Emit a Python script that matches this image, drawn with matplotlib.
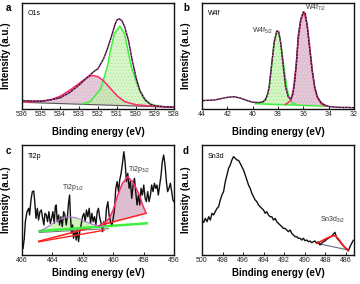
import matplotlib
matplotlib.use("Agg")
import matplotlib.pyplot as plt
import numpy as np

plt.rcParams['font.family'] = ['Liberation Sans', 'DejaVu Sans']
plt.rcParams['mathtext.fontset'] = 'custom'
plt.rcParams['mathtext.rm'] = 'Liberation Sans'
plt.rcParams['mathtext.it'] = 'Liberation Sans'
plt.rcParams['hatch.linewidth'] = 0.4

# ---------------- Panel a : O1s ----------------
o1s_env_e = [536, 535.5, 535, 534.5, 534, 533.5, 533, 532.5, 532.2, 532, 531.7, 531.5, 531.3,
             531.1, 531.0, 530.9, 530.75, 530.6, 530.4, 530.2, 530.0, 529.8, 529.5, 529.2,
             529, 528.5, 528]
o1s_env_i = [7.9, 7.6, 7.3, 8.6, 10.5, 15.5, 22.5, 30.8, 35.6, 38.0, 47.6, 57.0, 68.0,
             80.0, 84.0, 85.0, 83.5, 77.8, 65.0, 46.0, 30.0, 17.5, 8.0, 4.0,
             3.0, 2.2, 1.6]
o1s_red_e = [536, 535.5, 535, 534.5, 534, 533.5, 533, 532.6, 532.3, 532.0, 531.7, 531.4,
             531.0, 530.6, 530.0, 529.5, 529, 528.5, 528]
o1s_red_i = [6.3, 6.8, 7.5, 8.6, 12.0, 17.5, 24.0, 29.5, 31.7, 30.5, 26.5, 20.5,
             12.5, 7.0, 4.0, 3.2, 2.6, 2.1, 1.6]
o1s_green_e = [532.8, 532.4, 531.86, 531.51, 531.34, 531.13, 530.85, 530.61, 530.43,
               530.24, 529.95, 529.63, 529.25, 528.9]
o1s_green_i = [4.8, 7.0, 19.0, 39.7, 55.6, 71.4, 78.4, 71.4, 55.6,
               39.7, 23.8, 11.1, 4.8, 3.2]
o1s_base_e = [536, 528]
o1s_base_i = [6.3, 1.6]

# ---------------- Panel b : W4f ----------------
w4f_env_e = [44, 43.5, 43, 42.5, 42, 41.5, 41, 40.5, 40, 39.5, 39.2, 39, 38.8, 38.7, 38.5,
             38.3, 38.1, 37.95, 37.8, 37.6, 37.4, 37.2, 37.0, 36.85, 36.7, 36.55, 36.4,
             36.2, 36.0, 35.85, 35.7, 35.5, 35.3, 35.1, 34.9, 34.6, 34.3, 34.0, 33.5,
             33.0, 32.5, 32.0]
w4f_env_i = [7.9, 8.2, 8.5, 9.8, 11.0, 11.6, 10.4, 8.2, 6.4, 6.1, 6.7, 8.5, 14.6, 20.7, 42.1,
             63.4, 73.5, 73.2, 63.4, 42.1, 20.7, 11.6, 9.1, 13.1, 23.8, 42.1, 69.5,
             84.8, 91.5, 90.2, 78.7, 57.3, 36.0, 20.7, 11.6, 6.1, 3.7, 2.4, 1.8,
             1.5, 1.5, 1.2]
w4f_green_e = [39.8, 39.2, 38.9, 38.7, 38.5, 38.3, 38.1, 37.9, 37.7, 37.5, 37.3, 37.1, 36.9, 36.6]
w4f_green_i = [5.2, 6.5, 11.0, 20.0, 41.0, 62.0, 73.5, 70.0, 56.0, 37.0, 20.0, 10.0, 6.0, 4.6]
w4f_pink_e = [37.4, 37.0, 36.8, 36.6, 36.4, 36.2, 35.95, 35.7, 35.5, 35.3, 35.1, 34.9, 34.6, 34.3]
w4f_pink_i = [4.3, 8.0, 17.0, 38.0, 65.0, 84.0, 91.5, 80.0, 59.0, 37.0, 20.0, 11.0, 5.0, 3.0]
w4f_base_e = [39.8, 34.2]
w4f_base_i = [5.0, 2.6]

# ---------------- Panel c : Ti2p ----------------
ti_e = [465.93, 465.85, 465.78, 465.67, 465.56, 465.50, 465.41, 465.32, 465.23, 465.17,
        465.08, 464.99, 464.91, 464.82, 464.73, 464.64, 464.56, 464.49, 464.40, 464.32,
        464.23, 464.14, 464.05, 463.97, 463.88, 463.81, 463.75, 463.68, 463.59, 463.53,
        463.44, 463.35, 463.26, 463.18, 463.09, 463.00, 462.94, 462.87, 462.81, 462.74,
        462.67, 462.61, 462.52, 462.43, 462.37, 462.28, 462.19, 462.11, 462.02, 461.93,
        461.84, 461.76, 461.67, 461.58, 461.49, 461.40, 461.32, 461.23, 461.14, 461.05,
        460.97, 460.88, 460.79, 460.70, 460.62, 460.53, 460.44, 460.35, 460.27, 460.18,
        460.09, 460.00, 459.92, 459.83, 459.74, 459.65, 459.57, 459.48, 459.39, 459.30,
        459.22, 459.13, 459.04, 458.95, 458.87, 458.78, 458.69, 458.60, 458.52, 458.43,
        458.34, 458.25, 458.17, 458.08, 457.99, 457.90, 457.82, 457.73, 457.64, 457.55,
        457.47, 457.38, 457.29, 457.20, 457.12, 457.03, 456.94, 456.85, 456.77, 456.68,
        456.59, 456.50, 456.42, 456.33, 456.24, 456.15, 456.07, 456.00]
ti_i = [6.1, 15.2, 30.3, 39.4, 42.4, 36.4, 50.0, 57.6, 58.2, 50.0,
        33.3, 42.4, 31.8, 39.4, 40.9, 33.3, 27.3, 37.9, 36.4, 30.3,
        39.4, 28.8, 33.3, 39.4, 28.8, 43.9, 45.5, 30.3, 36.4, 27.3,
        34.8, 25.8, 39.4, 36.4, 27.3, 36.4, 47.0, 54.5, 34.8, 19.7,
        27.3, 15.2, 22.7, 13.6, 24.2, 12.1, 22.7, 27.3, 34.8, 37.9,
        30.3, 40.9, 34.8, 42.4, 28.8, 37.9, 30.3, 34.8, 27.3, 39.4,
        42.4, 33.3, 28.8, 21.2, 30.3, 25.8, 42.4, 48.5, 36.4, 30.3,
        25.8, 33.3, 40.9, 60.6, 66.7, 57.6, 68.2, 74.2, 83.3, 93.9,
        84.8, 66.7, 74.2, 60.6, 66.7, 51.5, 63.6, 69.7, 57.6, 45.5,
        54.5, 45.5, 60.6, 54.5, 63.6, 51.5, 48.5, 57.6, 48.5, 54.5,
        63.6, 57.6, 65.2, 60.6, 63.6, 54.5, 63.6, 72.7, 84.8, 90.9,
        81.8, 66.7, 57.6, 60.6, 65.2, 57.6, 50.0, 48.5]
ti_green_e = [464.85, 464.5, 464.0, 463.5, 463.0, 462.5, 462.0, 461.5, 461.0, 460.6]
ti_green_i = [21.8, 24.0, 28.5, 32.5, 34.8, 34.0, 31.5, 28.5, 26.5, 26.0]
ti_pink_e = [460.9, 460.5, 460.26, 460.0, 459.7, 459.4, 459.05, 458.75, 458.5, 458.28,
             458.05, 457.84]
ti_pink_i = [26.6, 30.0, 33.4, 41.0, 54.5, 65.0, 71.2, 67.0, 61.0, 54.5,
             45.0, 37.9]
ti_gline_e = [464.85, 457.8]
ti_gline_i = [21.8, 28.8]
ti_grayline_e = [464.85, 460.3]
ti_grayline_i = [20.5, 24.0]
ti_red1_e = [464.9, 457.84]
ti_red1_i = [12.5, 37.9]
ti_red2_e = [464.9, 460.6]
ti_red2_i = [12.0, 22.5]

# ---------------- Panel d : Sn3d ----------------
sn_e = [500.00, 499.84, 499.68, 499.51, 499.35, 499.19, 499.03, 498.87, 498.71, 498.54,
        498.38, 498.22, 498.06, 497.90, 497.73, 497.57, 497.41, 497.25, 497.09, 496.93,
        496.76, 496.60, 496.44, 496.28, 496.12, 495.96, 495.79, 495.63, 495.47, 495.31,
        495.15, 494.98, 494.82, 494.66, 494.50, 494.34, 494.18, 494.01, 493.85, 493.69,
        493.53, 493.37, 493.20, 493.04, 492.88, 492.72, 492.56, 492.40, 492.23, 492.07,
        491.91, 491.75, 491.59, 491.42, 491.26, 491.10, 490.94, 490.78, 490.62, 490.45,
        490.29, 490.13, 489.97, 489.81, 489.64, 489.48, 489.32, 489.16, 489.00, 488.84,
        488.67, 488.51, 488.35, 488.19, 488.03, 487.86, 487.70, 487.54, 487.38, 487.22,
        487.06, 486.89, 486.73, 486.57, 486.41, 486.25, 486.08, 485.92, 485.76, 485.60,
        485.44, 485.28]
sn_i = [31.8, 29.5, 33.3, 30.3, 34.8, 31.8, 37.9, 36.4, 39.4, 42.4,
        43.9, 50.0, 54.5, 57.6, 66.7, 72.7, 78.8, 81.8, 86.4, 89.4,
        87.9, 86.4, 86.0, 83.3, 80.3, 77.3, 72.7, 68.2, 63.6, 60.6,
        56.1, 53.0, 50.0, 48.5, 45.5, 43.9, 42.4, 40.9, 37.9, 39.4,
        36.4, 34.8, 34.8, 31.8, 33.3, 30.3, 28.8, 27.3, 25.8, 24.2,
        24.2, 22.7, 21.2, 22.7, 19.7, 18.2, 16.7, 16.7, 15.2, 15.2,
        13.6, 15.2, 13.0, 13.6, 12.1, 12.7, 11.2, 12.1, 12.7, 10.6,
        12.1, 9.1, 10.6, 12.1, 12.7, 14.2, 15.2, 16.1, 17.0, 18.8,
        20.6, 15.8, 13.9, 12.1, 10.3, 8.5, 6.7, 5.5, 3.6, 7.3,
        10.3, 13.3]
sn_red_e = [488.8, 488.4, 488.0, 487.6, 487.2, 487.0, 486.7, 486.4, 486.1, 485.75]
sn_red_i = [10.6, 12.5, 14.5, 16.3, 17.6, 17.3, 14.5, 10.5, 7.0, 4.5]
sn_base_e = [488.8, 485.75]
sn_base_i = [10.6, 4.5]

# ---------------- figure ----------------
W, H = 360, 284
fig = plt.figure(figsize=(W / 100, H / 100), dpi=100)


def make_ax(l, t, r, b):
    return fig.add_axes([l / W, 1 - b / H, (r - l) / W, (b - t) / H])


axA = make_ax(22, 3, 174, 109)
axB = make_ax(202, 3, 354, 109)
axC = make_ax(22, 145, 174, 255)
axD = make_ax(202, 145, 354, 255)

GREEN_FILL = '#c6f2b0'
GREEN_LINE = '#3ef03e'
PINK_FILL = '#d8b2c6'
PINK_LINE = '#ff2a6a'
ENV = '#2a1028'
DOT = '#ff55cc'
LBL = '#333333'


def style(ax, xlim, xticks):
    ax.set_xlim(*xlim)
    ax.set_ylim(0, 100)
    ax.set_xticks(xticks)
    ax.set_xticklabels([str(t) for t in xticks])
    ax.set_yticks([])
    ax.tick_params(axis='x', direction='in', length=2.2, width=0.7, pad=1.5,
                   labelsize=5, colors='#222222')
    for s in ax.spines.values():
        s.set_linewidth(1.0)
        s.set_color('#111111')


# Panel a
style(axA, (536, 528), [536, 535, 534, 533, 532, 531, 530, 529, 528])
axA.fill(o1s_red_e, o1s_red_i, facecolor=PINK_FILL, alpha=0.75, edgecolor='#f4e4ee',
         hatch='.....', lw=0)
axA.fill(o1s_green_e, o1s_green_i, facecolor=GREEN_FILL, alpha=0.65, edgecolor='#8fdc7a',
         hatch='.....', lw=0)
axA.plot(o1s_base_e, o1s_base_i, color='#555555', lw=0.8)
axA.plot(o1s_green_e, o1s_green_i, color=GREEN_LINE, lw=1.1)
axA.plot(o1s_red_e, o1s_red_i, color=PINK_LINE, lw=1.1)
axA.plot(o1s_env_e, o1s_env_i, color=ENV, lw=1.0)
axA.plot(o1s_env_e, o1s_env_i, color=DOT, lw=0.8, ls=(0, (1, 2)))
axA.text(0.04, 0.93, 'O1s', transform=axA.transAxes, fontsize=5, va='top', ha='left')

# Panel b
style(axB, (44, 32), [44, 42, 40, 38, 36, 34, 32])
axB.fill(w4f_pink_e, w4f_pink_i, facecolor=PINK_FILL, alpha=0.8, edgecolor='#f0dde8',
         hatch='.....', lw=0)
axB.fill(w4f_green_e, w4f_green_i, facecolor=GREEN_FILL, alpha=0.75, edgecolor='#8fdc7a',
         hatch='.....', lw=0)
axB.plot(w4f_base_e, w4f_base_i, color=GREEN_LINE, lw=1.1)
axB.plot(w4f_green_e, w4f_green_i, color=GREEN_LINE, lw=1.0)
axB.plot(w4f_pink_e, w4f_pink_i, color=PINK_LINE, lw=1.1)
axB.plot(w4f_env_e, w4f_env_i, color=ENV, lw=1.0)
axB.plot(w4f_env_e, w4f_env_i, color=DOT, lw=0.8, ls=(0, (1, 2)))
axB.text(0.04, 0.93, 'W4f', transform=axB.transAxes, fontsize=5, va='top', ha='left')
axB.text(39.25, 74, 'W4f$_{5/2}$', fontsize=5, ha='center', va='center', color=LBL)
axB.text(35.0, 95, 'W4f$_{7/2}$', fontsize=5, ha='center', va='center', color=LBL)

# Panel c
style(axC, (466, 456), [466, 464, 462, 460, 458, 456])
axC.plot(ti_e, ti_i, color='#111111', lw=1.0)
axC.fill(ti_pink_e, ti_pink_i, facecolor=PINK_FILL, alpha=0.85, lw=0)
axC.fill(ti_green_e, ti_green_i, facecolor=GREEN_FILL, alpha=0.85, lw=0)
axC.plot(ti_grayline_e, ti_grayline_i, color='#777777', lw=0.8)
axC.plot(ti_red2_e, ti_red2_i, color='#ff2020', lw=1.0)
axC.plot(ti_red1_e, ti_red1_i, color='#ff2020', lw=1.1)
axC.plot(ti_gline_e, ti_gline_i, color=GREEN_LINE, lw=1.8)
axC.plot(ti_green_e, ti_green_i, color='#b07ad8', lw=0.8)
axC.plot(ti_pink_e, ti_pink_i, color=PINK_LINE, lw=1.1)
axC.text(0.04, 0.93, 'Ti2p', transform=axC.transAxes, fontsize=5, va='top', ha='left')
axC.text(462.65, 61, 'Ti2p$_{1/2}$', fontsize=5, ha='center', va='center', color=LBL)
axC.text(458.3, 78, 'Ti2p$_{3/2}$', fontsize=5, ha='center', va='center', color=LBL)

# Panel d
style(axD, (500, 485.2), [500, 498, 496, 494, 492, 490, 488, 486])
axD.plot(sn_base_e, sn_base_i, color='#607080', lw=0.8)
axD.plot(sn_e, sn_i, color='#111111', lw=1.0)
axD.plot(sn_red_e, sn_red_i, color='#ff1a1a', lw=1.2)
axD.text(0.04, 0.93, 'Sn3d', transform=axD.transAxes, fontsize=5, va='top', ha='left')
axD.text(487.3, 32, 'Sn3d$_{3/2}$', fontsize=5, ha='center', va='center', color=LBL)

# labels
for (lx, ly, letter) in [(8, 8, 'a'), (186, 8, 'b'), (8, 151, 'c'), (186, 151, 'd')]:
    fig.text(lx / W, 1 - ly / H, letter, fontsize=7, fontweight='bold', ha='center', va='center')

for (lx, cy) in [(6, 56), (186, 56), (6, 200), (186, 200)]:
    fig.text(lx / W, 1 - cy / H, 'Intensity (a.u.)', rotation=90, fontsize=7,
             fontweight='bold', ha='center', va='center')

for (cx, cy) in [(98, 132), (278, 132), (98, 273), (278, 273)]:
    fig.text(cx / W, 1 - cy / H, 'Binding energy (eV)', fontsize=7, fontweight='bold',
             ha='center', va='center')

fig.savefig('out.png', dpi=100)
